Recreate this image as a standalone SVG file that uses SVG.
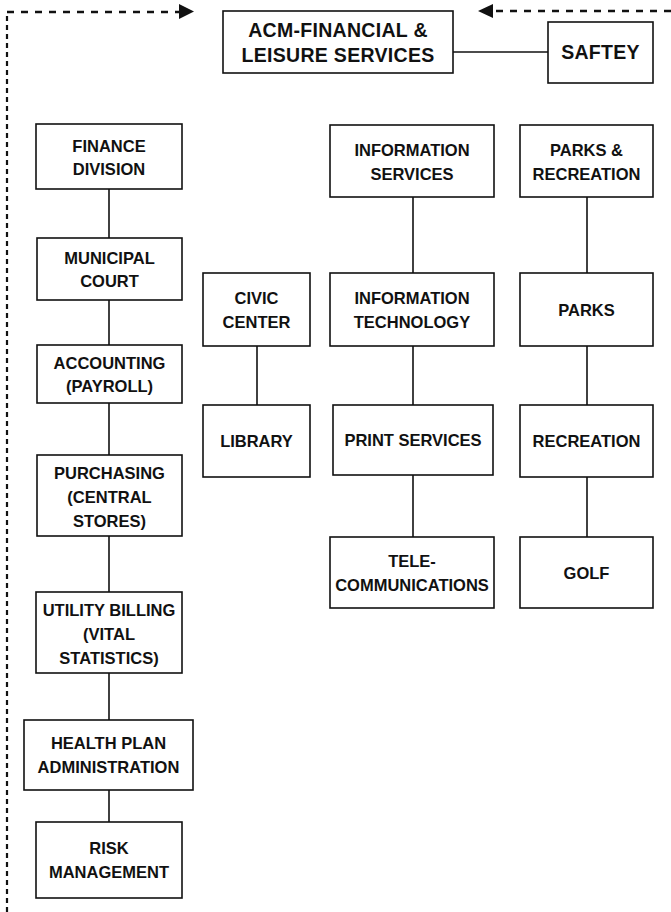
<svg xmlns="http://www.w3.org/2000/svg" width="671" height="912" viewBox="0 0 671 912">
  <defs>
    <style>
      .box { fill: #fff; stroke: #111; stroke-width: 1.6; }
      .lbl { font-family: "Liberation Sans", Arial, sans-serif; font-weight: bold; font-size: 16.5px; fill: #111; text-anchor: middle; }
      .big { font-size: 19.5px; letter-spacing: 0.3px; }
      .link { stroke: #111; stroke-width: 1.6; fill: none; }
      .dash-h { stroke: #111; stroke-width: 2.4; fill: none; stroke-dasharray: 7 7; }
      .dash-v { stroke: #111; stroke-width: 2.2; fill: none; stroke-dasharray: 5 4; }
    </style>
  </defs>
  <rect width="671" height="912" fill="#fff"/>

  <!-- connectors -->
  <g id="connectors">
    <!-- dashed feedback lines along top and left edge -->
    <path class="dash-v" d="M7,912 V12"/>
    <path class="dash-h" d="M7,12 H181"/>
    <polygon points="179,4 194,11.5 179,19" fill="#111"/>
    <path class="dash-h" d="M671,11 H492"/>
    <polygon points="493,4 478,11 493,18" fill="#111"/>
    <!-- solid reporting lines -->
    <line class="link" x1="453" y1="52" x2="548" y2="52"/>
    <line class="link" x1="109" y1="189" x2="109" y2="238"/>
    <line class="link" x1="109" y1="300" x2="109" y2="345"/>
    <line class="link" x1="109" y1="403" x2="109" y2="455"/>
    <line class="link" x1="109" y1="536" x2="109" y2="592"/>
    <line class="link" x1="109" y1="673" x2="109" y2="720"/>
    <line class="link" x1="109" y1="790" x2="109" y2="822"/>
    <line class="link" x1="257" y1="346" x2="257" y2="405"/>
    <line class="link" x1="413" y1="197" x2="413" y2="273"/>
    <line class="link" x1="413" y1="346" x2="413" y2="405"/>
    <line class="link" x1="413" y1="475" x2="413" y2="537"/>
    <line class="link" x1="587" y1="197" x2="587" y2="273"/>
    <line class="link" x1="587" y1="346" x2="587" y2="405"/>
    <line class="link" x1="587" y1="477" x2="587" y2="537"/>
  </g>

  <g id="acm">
    <rect class="box" x="223" y="11" width="230" height="62"/>
    <text class="lbl big" x="338" y="37">ACM-FINANCIAL &amp;</text>
    <text class="lbl big" x="338" y="62">LEISURE SERVICES</text>
  </g>
  <g id="saftey">
    <rect class="box" x="548" y="22" width="105" height="61"/>
    <text class="lbl big" x="600.5" y="59">SAFTEY</text>
  </g>

  <!-- finance column -->
  <g id="finance-division">
    <rect class="box" x="36" y="124" width="146" height="65"/>
    <text class="lbl" x="109" y="152">FINANCE</text>
    <text class="lbl" x="109" y="175">DIVISION</text>
  </g>
  <g id="municipal-court">
    <rect class="box" x="37" y="238" width="145" height="62"/>
    <text class="lbl" x="109.5" y="263.5">MUNICIPAL</text>
    <text class="lbl" x="109.5" y="287">COURT</text>
  </g>
  <g id="accounting">
    <rect class="box" x="37" y="345" width="145" height="58"/>
    <text class="lbl" x="109.5" y="368.5">ACCOUNTING</text>
    <text class="lbl" x="109.5" y="392">(PAYROLL)</text>
  </g>
  <g id="purchasing">
    <rect class="box" x="37" y="455" width="145" height="81"/>
    <text class="lbl" x="109.5" y="479">PURCHASING</text>
    <text class="lbl" x="109.5" y="503">(CENTRAL</text>
    <text class="lbl" x="109.5" y="527">STORES)</text>
  </g>
  <g id="utility-billing">
    <rect class="box" x="36" y="592" width="146" height="81"/>
    <text class="lbl" x="109" y="616">UTILITY BILLING</text>
    <text class="lbl" x="109" y="640">(VITAL</text>
    <text class="lbl" x="109" y="664">STATISTICS)</text>
  </g>
  <g id="health-plan">
    <rect class="box" x="24" y="720" width="169" height="70"/>
    <text class="lbl" x="108.5" y="749">HEALTH PLAN</text>
    <text class="lbl" x="108.5" y="773">ADMINISTRATION</text>
  </g>
  <g id="risk-management">
    <rect class="box" x="36" y="822" width="146" height="76"/>
    <text class="lbl" x="109" y="854">RISK</text>
    <text class="lbl" x="109" y="878">MANAGEMENT</text>
  </g>

  <!-- civic column -->
  <g id="civic-center">
    <rect class="box" x="203" y="273" width="107" height="73"/>
    <text class="lbl" x="256.5" y="304">CIVIC</text>
    <text class="lbl" x="256.5" y="328">CENTER</text>
  </g>
  <g id="library">
    <rect class="box" x="203" y="405" width="107" height="72"/>
    <text class="lbl" x="256.5" y="447">LIBRARY</text>
  </g>

  <!-- information services column -->
  <g id="information-services">
    <rect class="box" x="330" y="125" width="164" height="72"/>
    <text class="lbl" x="412" y="156">INFORMATION</text>
    <text class="lbl" x="412" y="180">SERVICES</text>
  </g>
  <g id="information-technology">
    <rect class="box" x="330" y="273" width="164" height="73"/>
    <text class="lbl" x="412" y="304">INFORMATION</text>
    <text class="lbl" x="412" y="328">TECHNOLOGY</text>
  </g>
  <g id="print-services">
    <rect class="box" x="333" y="405" width="160" height="70"/>
    <text class="lbl" x="413" y="446">PRINT SERVICES</text>
  </g>
  <g id="telecommunications">
    <rect class="box" x="330" y="537" width="164" height="71"/>
    <text class="lbl" x="412" y="567">TELE-</text>
    <text class="lbl" x="412" y="591">COMMUNICATIONS</text>
  </g>

  <!-- parks column -->
  <g id="parks-recreation">
    <rect class="box" x="520" y="125" width="133" height="72"/>
    <text class="lbl" x="586.5" y="156">PARKS &amp;</text>
    <text class="lbl" x="586.5" y="180">RECREATION</text>
  </g>
  <g id="parks">
    <rect class="box" x="520" y="273" width="133" height="73"/>
    <text class="lbl" x="586.5" y="316">PARKS</text>
  </g>
  <g id="recreation">
    <rect class="box" x="520" y="405" width="133" height="72"/>
    <text class="lbl" x="586.5" y="447">RECREATION</text>
  </g>
  <g id="golf">
    <rect class="box" x="520" y="537" width="133" height="71"/>
    <text class="lbl" x="586.5" y="579">GOLF</text>
  </g>
</svg>
